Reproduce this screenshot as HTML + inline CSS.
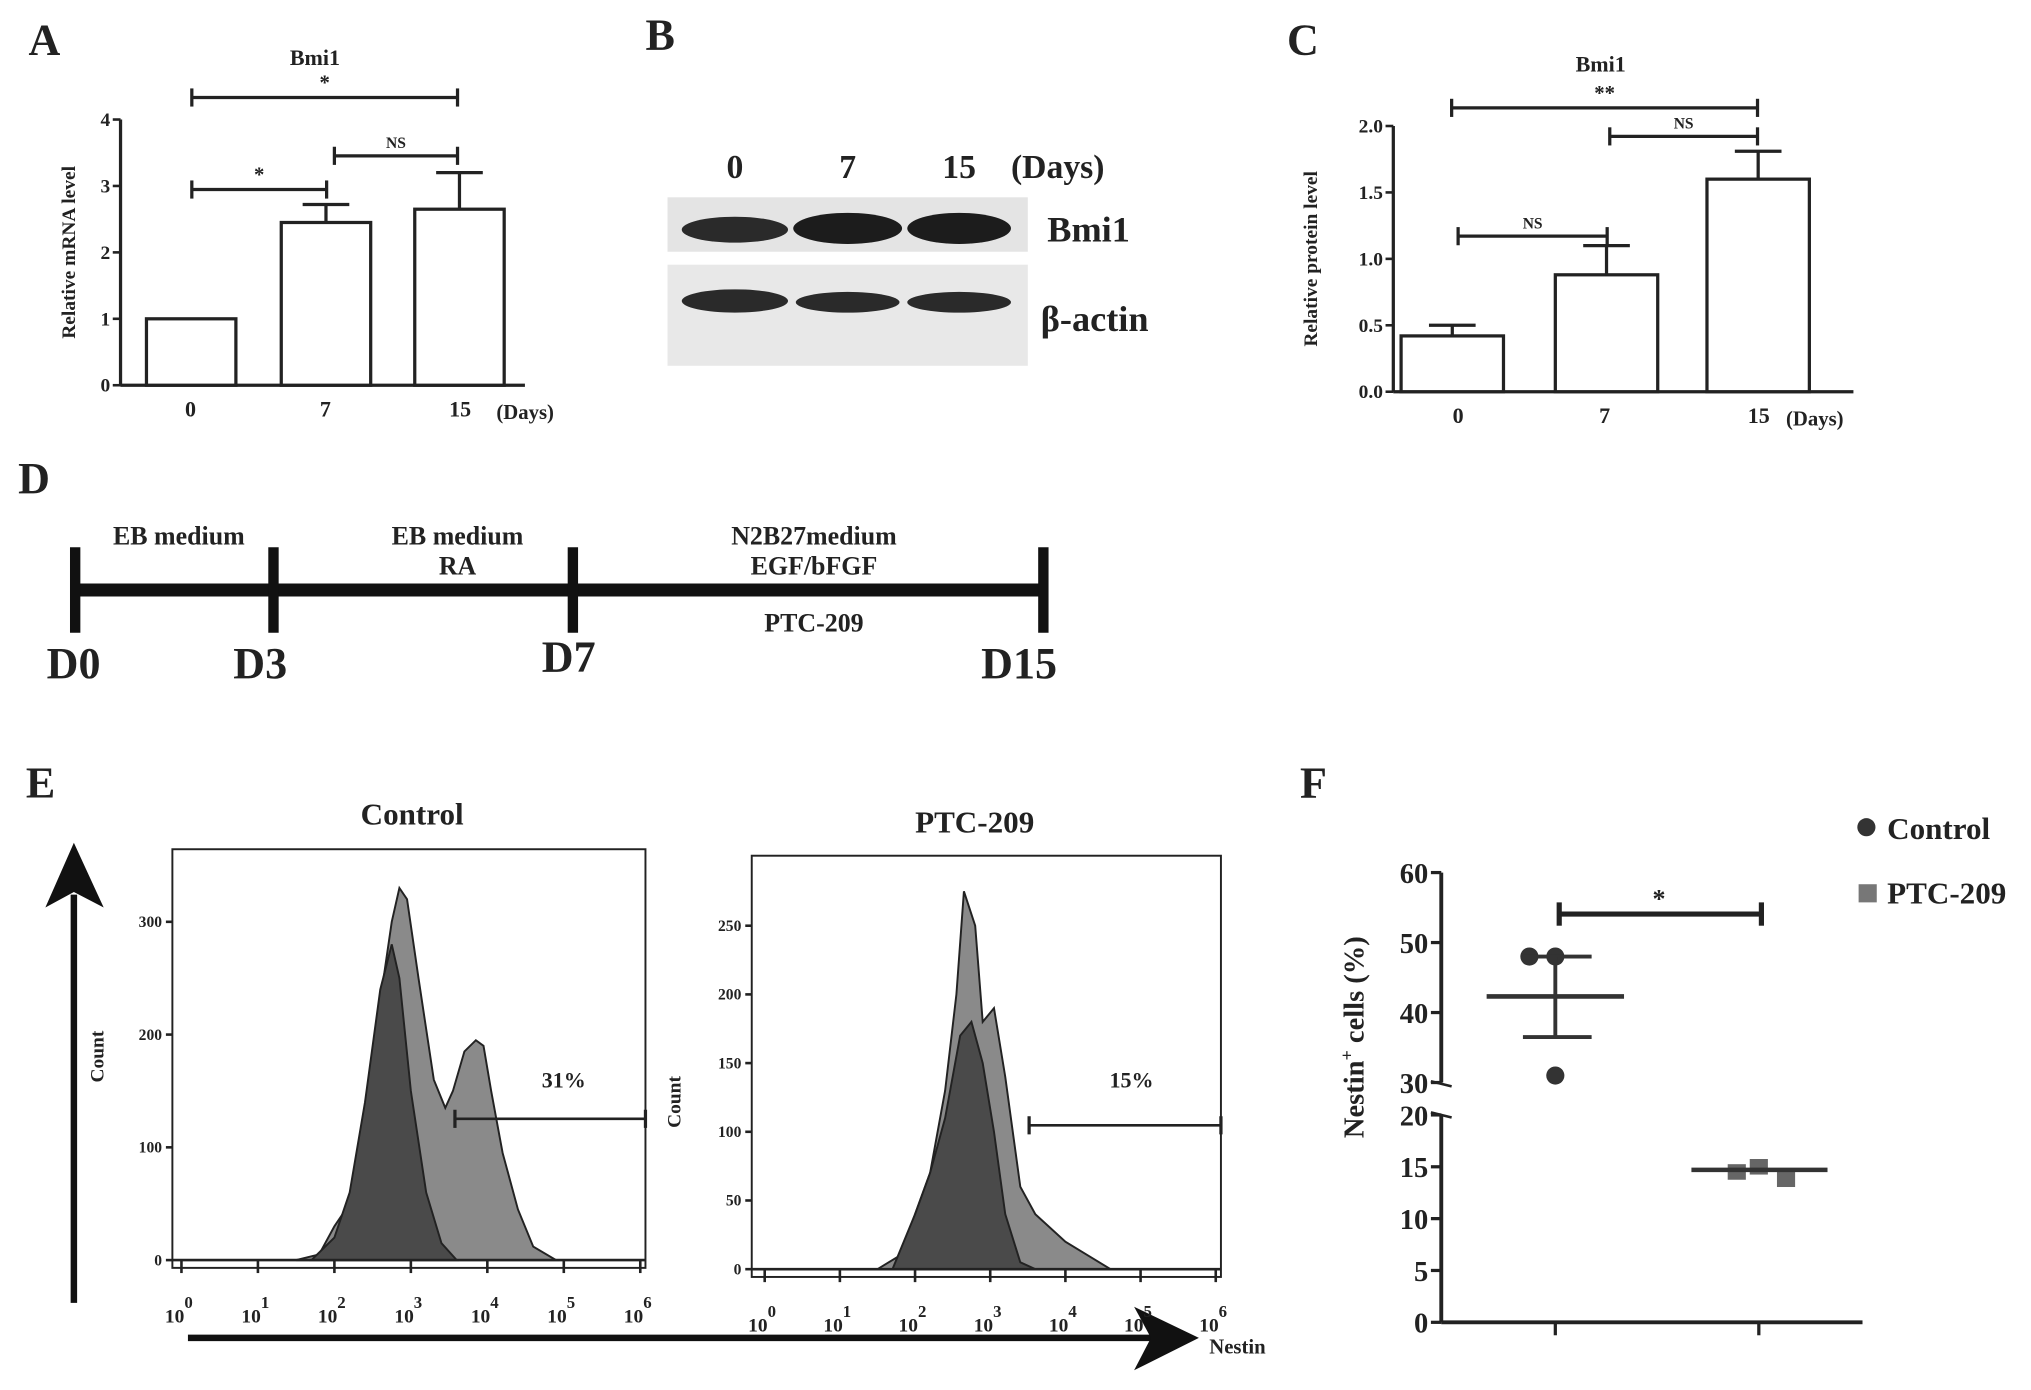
<!DOCTYPE html>
<html><head><meta charset="utf-8"><style>
html,body{margin:0;padding:0;background:#fff}
svg{display:block}
text{font-family:"Liberation Serif",serif;font-weight:bold;fill:#222}
</style></head><body>
<svg id="fig" width="2031" height="1390" viewBox="0 0 1567 1072" xmlns="http://www.w3.org/2000/svg">
<g id="pA"></g>
<g id="pB">
  <text x="498" y="38" font-size="34">B</text>
  <text x="567" y="137" font-size="26" text-anchor="middle">0</text>
  <text x="654" y="137" font-size="26" text-anchor="middle">7</text>
  <text x="740" y="137" font-size="26" text-anchor="middle">15</text>
  <text x="780" y="137" font-size="26">(Days)</text>
  <rect x="515" y="152" width="278" height="42" fill="#e4e4e4"/>
  <rect x="515" y="204" width="278" height="78" fill="#e8e8e8"/>
  <ellipse cx="567" cy="177" rx="41" ry="10" fill="#2a2a2a"/>
  <ellipse cx="654" cy="176" rx="42" ry="12" fill="#1c1c1c"/>
  <ellipse cx="740" cy="176" rx="40" ry="12" fill="#1c1c1c"/>
  <ellipse cx="567" cy="232" rx="41" ry="9" fill="#2a2a2a"/>
  <ellipse cx="654" cy="233" rx="40" ry="8" fill="#2a2a2a"/>
  <ellipse cx="740" cy="233" rx="40" ry="8" fill="#2a2a2a"/>
  <text x="808" y="186" font-size="28">Bmi1</text>
  <text x="803" y="255" font-size="28">β-actin</text>
</g>
<g id="pC"></g>
<g id="pD">
  <text x="14" y="380" font-size="34">D</text>
  <line x1="58" y1="455" x2="805" y2="455" stroke="#111" stroke-width="10"/>
  <line x1="58" y1="422" x2="58" y2="488" stroke="#111" stroke-width="8"/>
  <line x1="211" y1="422" x2="211" y2="488" stroke="#111" stroke-width="8"/>
  <line x1="442" y1="422" x2="442" y2="488" stroke="#111" stroke-width="8"/>
  <line x1="805" y1="422" x2="805" y2="488" stroke="#111" stroke-width="8"/>
  <text x="138" y="420" font-size="20" text-anchor="middle">EB medium</text>
  <text x="353" y="420" font-size="20" text-anchor="middle">EB medium</text>
  <text x="353" y="443" font-size="20" text-anchor="middle">RA</text>
  <text x="628" y="420" font-size="20" text-anchor="middle">N2B27medium</text>
  <text x="628" y="443" font-size="20" text-anchor="middle">EGF/bFGF</text>
  <text x="628" y="487" font-size="20" text-anchor="middle">PTC-209</text>
  <text x="36" y="523" font-size="34">D0</text>
  <text x="180" y="523" font-size="34">D3</text>
  <text x="418" y="518" font-size="34">D7</text>
  <text x="757" y="523" font-size="34">D15</text>
</g>
<g id="pE">
  <text x="20" y="615" font-size="34">E</text>
  <line x1="57" y1="1005" x2="57" y2="690" stroke="#111" stroke-width="5"/>
  <polygon points="57,650 35,700 57,688 80,700" fill="#111"/>
  <line x1="145" y1="1032" x2="890" y2="1032" stroke="#111" stroke-width="5"/>
  <polygon points="925,1032 875,1008 888,1032 875,1057" fill="#111"/>
  <text x="933" y="1044" font-size="16">Nestin</text>
  <text x="318" y="636" font-size="24" text-anchor="middle">Control</text>
  <text x="752" y="642" font-size="24" text-anchor="middle">PTC-209</text>
</g>
<g id="pF"></g>
</svg>
<script>
const NS="http://www.w3.org/2000/svg";
function mk(parent,tag,attrs,txt){const e=document.createElementNS(NS,tag);for(const k in attrs)e.setAttribute(k,attrs[k]);if(txt!==undefined)e.textContent=txt;parent.appendChild(e);return e;}

// ---------- Panel A data ----------
const aCategories=["0","7","15"];
const aValues=[1.0,2.45,2.65];
const aErrors=[0,0.27,0.55];
const aTicks=[0,1,2,3,4];
// ---------- Panel C data ----------
const cCategories=["0","7","15"];
const cValues=[0.42,0.88,1.6];
const cErrors=[0.08,0.22,0.21];
const cTicks=[0,0.5,1.0,1.5,2.0];
// ---------- Panel E data ----------
const eLogTicks=[0,1,2,3,4,5,6];
const ctrlTotalX=[1.5,1.8,2.0,2.2,2.4,2.6,2.75,2.85,2.95,3.1,3.3,3.45,3.55,3.7,3.85,3.95,4.05,4.2,4.4,4.6,4.9];
const ctrlTotalY=[0,5,30,50,120,230,300,330,320,250,160,135,150,185,195,190,150,95,45,12,0];
const ctrlDarkX=[1.7,2.0,2.2,2.4,2.6,2.75,2.85,3.0,3.2,3.4,3.6];
const ctrlDarkY=[0,20,60,140,240,280,250,150,60,15,0];
const ptcTotalX=[1.5,1.8,2.0,2.2,2.4,2.55,2.65,2.8,2.9,3.05,3.2,3.4,3.6,4.0,4.3,4.6];
const ptcTotalY=[0,10,40,70,130,200,275,250,180,190,140,60,40,20,10,0];
const ptcDarkX=[1.7,2.0,2.2,2.4,2.6,2.75,2.9,3.05,3.2,3.4,3.6];
const ptcDarkY=[0,40,70,110,170,180,150,100,40,5,0];
const ctrlCountTicks=[0,100,200,300];
const ptcCountTicks=[0,50,100,150,200,250];
// ---------- Panel F data ----------
const fGroups=["Control","PTC-209"];
const fControlPoints=[48,48,31];
const fPtcPoints=[14.5,15,13.8];
const fControlMean=42.3, fControlSemLo=36.5, fControlSemHi=48;
const fPtcMean=14.7, fPtcSemLo=14.2, fPtcSemHi=15.1;
const fUpperTicks=[30,40,50,60];
const fLowerTicks=[0,5,10,15,20];

function barPanel(g,o){
  const y=v=>o.y0-(v-o.vmin)/(o.vmax-o.vmin)*(o.y0-o.y1);
  mk(g,"text",{x:o.lx,y:o.ly,"font-size":34,},o.id.toUpperCase());
  mk(g,"text",{x:o.tx,y:o.ty,"font-size":17,"text-anchor":"middle",},"Bmi1");
  mk(g,"line",{x1:o.ax,y1:o.y1,x2:o.ax,y2:o.y0,stroke:"#222","stroke-width":2.5,});
  mk(g,"line",{x1:o.ax,y1:o.y0,x2:o.axEnd,y2:o.y0,stroke:"#222","stroke-width":2.5,});
  o.ticks.forEach(t=>{
    const l=mk(g,"line",{x1:o.ax-6,y1:y(t),x2:o.ax,y2:y(t),stroke:"#222","stroke-width":2});
    
    
    const tx=mk(g,"text",{x:o.ax-8,y:y(t)+5,"font-size":15,"text-anchor":"end"},o.fmt(t));
    
    
  });
  const yt=mk(g,"text",{x:0,y:0,"font-size":15,"text-anchor":"middle",transform:`translate(${o.ytx},${(o.y0+o.y1)/2}) rotate(-90)`},o.ytitle);
  
  
  o.cats.forEach((c,i)=>{
    const x=o.bx[i];
    const top=y(o.vals[i]);
    const et=y(o.vals[i]+o.errs[i]);
    if(o.errs[i]>0){
      const e1=mk(g,"line",{x1:x+o.bw/2,y1:top,x2:x+o.bw/2,y2:et,stroke:"#222","stroke-width":2.5});
      
      
      const e2=mk(g,"line",{x1:x+o.bw/2-18,y1:et,x2:x+o.bw/2+18,y2:et,stroke:"#222","stroke-width":2.5});
      
      
    }
    const r=mk(g,"rect",{x:x,y:top,width:o.bw,height:o.y0-top,fill:"#fff",stroke:"#222","stroke-width":2.5});
    
    
    const l=mk(g,"text",{x:o.lab[i],y:o.y0+24,"font-size":17,"text-anchor":"middle"},c);
    
    
  });
  mk(g,"text",{x:o.dx,y:o.y0+26,"font-size":16,},"(Days)");
  o.sig.forEach(s=>{
    const l=mk(g,"line",{x1:s[0],y1:s[2],x2:s[1],y2:s[2],stroke:"#222","stroke-width":2.5});
    
    
    [s[0],s[1]].forEach(xx=>{const c=mk(g,"line",{x1:xx,y1:s[2]-7,x2:xx,y2:s[2]+7,stroke:"#222","stroke-width":2.5});});
    const t=mk(g,"text",{x:(s[0]+s[1])/2,y:s[2]-6,"font-size":s[3]=="NS"?12:16,"text-anchor":"middle","font-weight":s[3]=="NS"?"normal":"bold"},s[3]);
    
    
  });
}
barPanel(document.getElementById("pA"),{id:"a",lx:22,ly:42,tx:243,ty:50,ax:93,axEnd:405,y0:297,y1:92,vmin:0,vmax:4,ticks:aTicks,fmt:t=>String(t),
  ytitle:"Relative mRNA level",ytx:58,cats:aCategories,vals:aValues,errs:aErrors,bx:[113,217,320],bw:69,lab:[147,251,355],dx:383,
  sig:[[148,353,75,"*"],[148,252,146,"*"],[258,353,120,"NS"]]});
barPanel(document.getElementById("pC"),{id:"c",lx:993,ly:42,tx:1235,ty:55,ax:1075,axEnd:1430,y0:302,y1:97,vmin:0,vmax:2,ticks:cTicks,fmt:t=>t.toFixed(1),
  ytitle:"Relative protein level",ytx:1016,cats:cCategories,vals:cValues,errs:cErrors,bx:[1081,1200,1317],bw:79,lab:[1125,1238,1357],dx:1378,
  sig:[[1120,1356,83,"**"],[1242,1356,105,"NS"],[1125,1240,182,"NS"]]});

function histo(g,o){
  mk(g,"rect",{x:o.x0,y:o.y1,width:o.x1-o.x0,height:o.y0-o.y1,fill:"#fff",stroke:"#222","stroke-width":1.5,});
  const X=l=>o.xl0+l*o.dec, Y=c=>o.y0-6-c*o.pc;
  const path=(xs,ys)=>"M"+xs.map((l,i)=>X(l)+","+Y(ys[i])).join(" L")+" Z";
  const p1=mk(g,"path",{d:path(o.tx,o.ty),fill:"#8a8a8a",stroke:"#222","stroke-width":1.5});
  
  
  const p2=mk(g,"path",{d:path(o.dxs,o.dys),fill:"#4a4a4a",stroke:"#222","stroke-width":1.5});
  
  
  mk(g,"line",{x1:o.x0,y1:o.y0-6,x2:o.x1,y2:o.y0-6,stroke:"#222","stroke-width":2,});
  eLogTicks.forEach(l=>{
    const t=mk(g,"line",{x1:X(l),y1:o.y0-6,x2:X(l),y2:o.y0+4,stroke:"#222","stroke-width":2});
    
    
    const tl=mk(g,"text",{x:X(l)-2,y:o.y0+42,"font-size":15,"font-weight":"normal","text-anchor":"middle"});
    
    
    tl.innerHTML='10<tspan dy="-11" font-size="13">'+l+'</tspan>';
  });
  o.cticks.forEach(c=>{
    const t=mk(g,"line",{x1:o.x0-5,y1:Y(c),x2:o.x0,y2:Y(c),stroke:"#222","stroke-width":2});
    
    
    const tl=mk(g,"text",{x:o.x0-8,y:Y(c)+4,"font-size":12,"font-weight":"normal","text-anchor":"end"},String(c));
    
    
  });
  const ct=mk(g,"text",{x:0,y:0,"font-size":15,"font-weight":"normal","text-anchor":"middle",transform:`translate(${o.ctx},${o.cty}) rotate(-90)`},"Count");
  
  
  const gl=mk(g,"line",{x1:o.gx,y1:o.gy,x2:o.x1,y2:o.gy,stroke:"#222","stroke-width":2});
  
  
  [o.gx,o.x1].forEach(xx=>{const c=mk(g,"line",{x1:xx,y1:o.gy-7,x2:xx,y2:o.gy+7,stroke:"#222","stroke-width":2.5});});
  const pt=mk(g,"text",{x:o.px,y:o.py,"font-size":17,"font-weight":"normal","text-anchor":"middle"},o.pct);
  
  
}
const gE=document.getElementById("pE");
histo(gE,{id:"control",x0:133,x1:498,y1:655,y0:978,xl0:140,dec:59,pc:0.87,tx:ctrlTotalX,ty:ctrlTotalY,dxs:ctrlDarkX,dys:ctrlDarkY,cticks:ctrlCountTicks,ctx:80,cty:815,gx:351,gy:863,px:435,py:839,pct:"31%"});
histo(gE,{id:"ptc209",x0:580,x1:942,y1:660,y0:985,xl0:590,dec:58,pc:1.06,tx:ptcTotalX,ty:ptcTotalY,dxs:ptcDarkX,dys:ptcDarkY,cticks:ptcCountTicks,ctx:525,cty:850,gx:794,gy:868,px:873,py:839,pct:"15%"});

(function(){
  const g=document.getElementById("pF");
  const ax=1112;
  const Y=v=>v>=30?835-(v-30)*5.4:1020-v*8;
  mk(g,"text",{x:1003,y:615,"font-size":34,},"F");
  mk(g,"line",{x1:ax,y1:673,x2:ax,y2:835,stroke:"#222","stroke-width":3,});
  mk(g,"line",{x1:ax,y1:860,x2:ax,y2:1020,stroke:"#222","stroke-width":3,});
  mk(g,"path",{d:`M${ax-8},834 L${ax+8},838 M${ax-8},858 L${ax+8},862`,stroke:"#222","stroke-width":2,fill:"none",});
  mk(g,"line",{x1:ax,y1:1020,x2:1437,y2:1020,stroke:"#222","stroke-width":3,});
  fUpperTicks.concat(fLowerTicks).forEach(t=>{
    const l=mk(g,"line",{x1:ax-8,y1:Y(t),x2:ax,y2:Y(t),stroke:"#222","stroke-width":2.5});
    
    
    const tx=mk(g,"text",{x:ax-10,y:Y(t)+8,"font-size":22,"font-family":"Liberation Sans","font-weight":"normal","text-anchor":"end"},String(t));
    
    
  });
  [1200,1357].forEach((x,i)=>{const l=mk(g,"line",{x1:x,y1:1020,x2:x,y2:1030,stroke:"#222","stroke-width":2.5});});
  const yt=mk(g,"text",{x:0,y:0,"font-size":22,"text-anchor":"middle",transform:"translate(1052,800) rotate(-90)"});
  
  
  yt.innerHTML='Nestin<tspan dy="-8" font-size="14">+</tspan><tspan dy="8"> cells (%)</tspan>';
  const xs=[1180,1200,1200];
  fControlPoints.forEach((v,i)=>{const c=mk(g,"circle",{cx:xs[i],cy:Y(v),r:7,fill:"#333"});});
  const px=[1340,1357,1378];
  fPtcPoints.forEach((v,i)=>{const r=mk(g,"rect",{x:px[i]-7,y:Y(v)-6,width:14,height:12,fill:"#666"});});
  [[1147,1253,fControlMean,3.5],[1175,1228,fControlSemLo,3],[1175,1228,fControlSemHi,3],[1305,1410,fPtcMean,3.5]].forEach(s=>{
    const l=mk(g,"line",{x1:s[0],y1:Y(s[2]),x2:s[1],y2:Y(s[2]),stroke:"#333","stroke-width":s[3]});
    
    
  });
  const sc=mk(g,"line",{x1:1200,y1:Y(fControlSemLo),x2:1200,y2:Y(fControlSemHi),stroke:"#333","stroke-width":3});
  
  
  mk(g,"line",{x1:1203,y1:705,x2:1359,y2:705,stroke:"#222","stroke-width":4,});
  mk(g,"line",{x1:1203,y1:696,x2:1203,y2:714,stroke:"#222","stroke-width":4,});
  mk(g,"line",{x1:1359,y1:696,x2:1359,y2:714,stroke:"#222","stroke-width":4,});
  mk(g,"text",{x:1280,y:700,"font-size":20,"text-anchor":"middle",},"*");
  mk(g,"circle",{cx:1440,cy:638,r:7,fill:"#333",});
  mk(g,"text",{x:1456,y:647,"font-size":24,},"Control");
  mk(g,"rect",{x:1434,y:682,width:14,height:14,fill:"#777",});
  mk(g,"text",{x:1456,y:697,"font-size":24,},"PTC-209");
})();
</script>
</body></html>
